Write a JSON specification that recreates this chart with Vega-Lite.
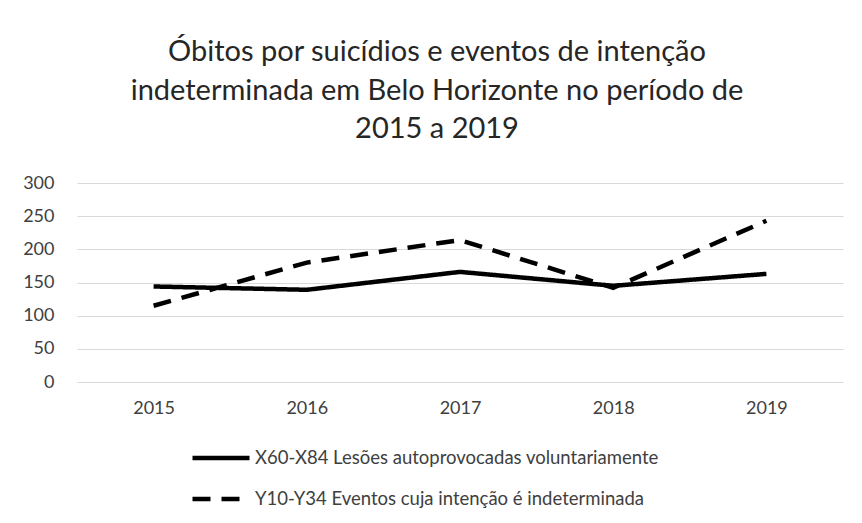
{
  "$schema": "https://vega.github.io/schema/vega-lite/v6.json",
  "width": 766,
  "height": 199,
  "autosize": {"type": "none"},
  "padding": {"left": 77, "top": 183, "right": 19, "bottom": 141},
  "background": "white",
  "config": {"view": {"stroke": null}},
  "title": {
    "text": ["Óbitos por suicídios e eventos de intenção", "indeterminada em Belo Horizonte no período de", "2015 a 2019"],
    "font": "Lato",
    "fontSize": 29,
    "fontWeight": "normal",
    "color": "#262626",
    "lineHeight": 38.5,
    "anchor": "middle",
    "dx": -23,
    "offset": 30
  },
  "data": {
    "values": [
      {"ano": "2015", "serie": "X60-X84 Lesões autoprovocadas voluntariamente", "obitos": 144},
      {"ano": "2016", "serie": "X60-X84 Lesões autoprovocadas voluntariamente", "obitos": 139},
      {"ano": "2017", "serie": "X60-X84 Lesões autoprovocadas voluntariamente", "obitos": 166},
      {"ano": "2018", "serie": "X60-X84 Lesões autoprovocadas voluntariamente", "obitos": 145},
      {"ano": "2019", "serie": "X60-X84 Lesões autoprovocadas voluntariamente", "obitos": 163},
      {"ano": "2015", "serie": "Y10-Y34 Eventos cuja intenção é indeterminada", "obitos": 115},
      {"ano": "2016", "serie": "Y10-Y34 Eventos cuja intenção é indeterminada", "obitos": 180},
      {"ano": "2017", "serie": "Y10-Y34 Eventos cuja intenção é indeterminada", "obitos": 214},
      {"ano": "2018", "serie": "Y10-Y34 Eventos cuja intenção é indeterminada", "obitos": 142},
      {"ano": "2019", "serie": "Y10-Y34 Eventos cuja intenção é indeterminada", "obitos": 243}
    ]
  },
  "mark": {"type": "line", "color": "black", "strokeWidth": 4.5, "strokeCap": "butt"},
  "encoding": {
    "x": {
      "field": "ano",
      "type": "ordinal",
      "scale": {"type": "point", "padding": 0.5},
      "axis": {
        "title": null,
        "labelAngle": 0,
        "domain": false,
        "ticks": false,
        "labelPadding": 17,
        "labelFont": "Lato",
        "labelFontSize": 18,
        "labelColor": "#404040"
      }
    },
    "y": {
      "field": "obitos",
      "type": "quantitative",
      "scale": {"domain": [0, 300]},
      "axis": {
        "title": null,
        "values": [0, 50, 100, 150, 200, 250, 300],
        "domain": false,
        "ticks": false,
        "gridColor": "#d9d9d9",
        "gridWidth": 1,
        "labelPadding": 23,
        "labelFont": "Lato",
        "labelFontSize": 18,
        "labelColor": "#404040"
      }
    },
    "strokeDash": {
      "field": "serie",
      "type": "nominal",
      "scale": {
        "domain": ["X60-X84 Lesões autoprovocadas voluntariamente", "Y10-Y34 Eventos cuja intenção é indeterminada"],
        "range": [[1, 0], [18, 11]]
      },
      "legend": {
        "title": null,
        "orient": "none",
        "legendX": 113,
        "legendY": 244,
        "direction": "vertical",
        "symbolType": "stroke",
        "symbolSize": 3249,
        "symbolStrokeWidth": 4.5,
        "symbolStrokeColor": "black",
        "labelFont": "Lato",
        "labelFontSize": 18.5,
        "labelColor": "#404040",
        "labelOffset": 3,
        "labelLimit": 600,
        "rowPadding": -15
      }
    }
  }
}
